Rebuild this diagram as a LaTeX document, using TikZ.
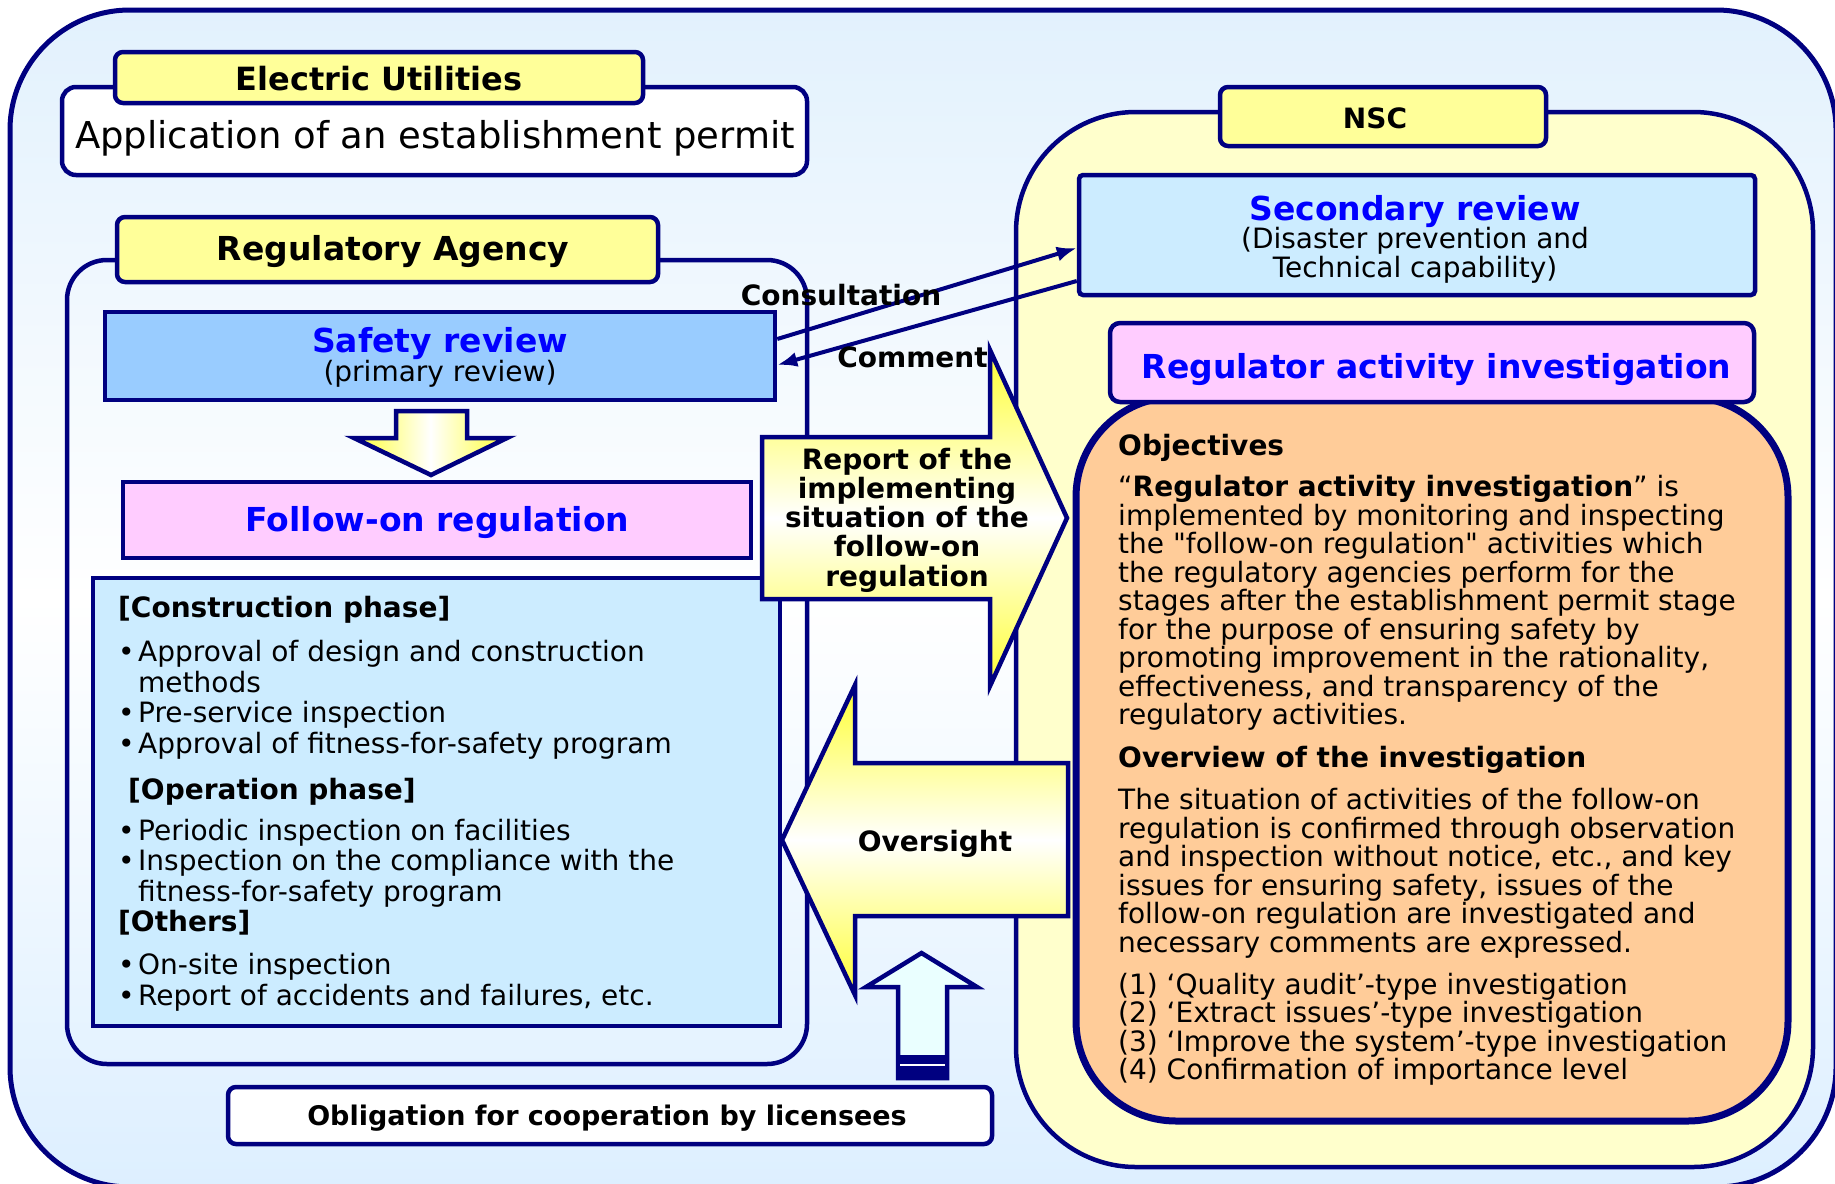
\documentclass[tikz,border=0pt]{standalone}
\usepackage{fontspec}
\setmainfont{DejaVu Sans}
\newfontfamily\plainfont{DejaVu Sans}
\usetikzlibrary{arrows.meta,positioning}

\definecolor{navy}{HTML}{000080}
\definecolor{tabyellow}{HTML}{FFFF99}
\definecolor{safeblue}{HTML}{99CCFF}
\definecolor{paleblue}{HTML}{CCECFF}
\definecolor{pinkbox}{HTML}{FFCCFF}
\definecolor{nscyellow}{HTML}{FFFFCC}
\definecolor{orangebox}{HTML}{FFCC99}
\definecolor{titleblue}{HTML}{0000FF}
\definecolor{bgtop}{HTML}{E2F1FD}
\definecolor{bgbottom}{HTML}{DDEFFF}
\definecolor{arrowyellow}{HTML}{FFFF33}
\definecolor{upcyan}{HTML}{EAFFFF}

\newcommand\bul{\makebox[20pt][l]{\textbullet}}
\newcommand\dq{{\plainfont"}}

\begin{document}
\begin{tikzpicture}[x=1pt,y=-1pt,>={Latex[length=20pt,width=15pt]}]
  \tikzset{block/.style={draw=navy,line width=4.5pt,inner sep=0pt},
    tab/.style={block,fill=tabyellow,rounded corners=8pt},
    grp/.style={draw=navy,line width=4.5pt,inner sep=0pt},
    ttl/.style={font=\bfseries\fontsize{33}{36}\selectfont,text=titleblue,anchor=base,inner sep=0pt},
    lbl/.style={font=\bfseries\fontsize{28}{30}\selectfont,anchor=base,inner sep=0pt},
    txt/.style={font=\fontsize{28}{29}\selectfont,anchor=base,inner sep=0pt},
    blockarrow/.style={draw=navy,line width=4.5pt,line join=miter},
  }
  \useasboundingbox (0,0) rectangle (1835,1183);
  \fill[white] (0,0) rectangle (1835,1183);

  % outer frame
  \path[draw=navy,line width=5pt,rounded corners=120pt,top color=bgtop,bottom color=bgbottom,middle color=white]
    (10,10) rectangle (1836,1187);

  % electric utilities
  \node[block,rounded corners=14pt,fill=white,minimum width=745pt,minimum height=88pt] (EU) at (434.5,131) {};
  \node[tab,minimum width=528pt,minimum height=51pt] (EUtab) at (379,77.5) {};
  \node[lbl,font=\bfseries\fontsize{32}{34}\selectfont] (EUname) at (379,90) {Electric Utilities};
  \node[txt,font=\fontsize{37}{40}\selectfont] (EUapp) at (435,148) {Application of an establishment permit};

  % regulatory agency
  \node[grp,rounded corners=40pt,minimum width=740pt,minimum height=804pt] (RA) at (437,662) {};
  \node[tab,minimum width=541pt,minimum height=65pt] (RAtab) at (387.5,249.5) {};
  \node[lbl,font=\bfseries\fontsize{33}{36}\selectfont] (RAname) at (393,260) {Regulatory Agency};

  \node[block,fill=safeblue,minimum width=670pt,minimum height=88pt] (SR) at (440,356) {};
  \node[ttl] (SRname) at (440,352) {Safety review};
  \node[txt] (SRsub) at (440,381) {(primary review)};

  \path[blockarrow,left color=arrowyellow,right color=arrowyellow,middle color=white]
    (396,411) -- (467,411) -- (467,438) -- (507,438) -- (431,475) -- (354,438) -- (396,438) -- cycle;

  \node[block,fill=pinkbox,minimum width=628pt,minimum height=76pt] (FR) at (437,520) {};
  \node[ttl] (FRname) at (437.5,531) {Follow-on regulation};

  % list of follow-on activities (base = last line)
  \node[block,fill=paleblue,minimum width=687pt,minimum height=448pt] (List) at (436.5,802) {};
  \node[txt,anchor=base west,align=left,font=\fontsize{28}{30.5}\selectfont] (Items) at (118,1005) {%
    \textbf{[Construction phase]}\\[13.5pt]
    \bul Approval of design and construction\\
    \hspace*{20pt}methods\\
    \bul Pre-service inspection\\
    \bul Approval of fitness-for-safety program\\[15.5pt]
    \hspace*{10pt}\textbf{[Operation phase]}\\[10.5pt]
    \bul Periodic inspection on facilities\\
    \bul Inspection on the compliance with the\\
    \hspace*{20pt}fitness-for-safety program\\
    \textbf{[Others]}\\[12.5pt]
    \bul On-site inspection\\
    \bul Report of accidents and failures, etc.};

  % NSC
  \node[grp,fill=nscyellow,rounded corners=120pt,minimum width=797pt,minimum height=1055pt] (NSC) at (1414.5,639.5) {};
  \node[tab,minimum width=326pt,minimum height=59pt] (NSCtab) at (1383,116.5) {};
  \node[lbl] (NSCname) at (1375,128) {NSC};

  \node[block,fill=paleblue,rounded corners=4pt,minimum width=676pt,minimum height=120pt] (SecR) at (1417,235) {};
  \node[ttl] (SecRname) at (1415,220) {Secondary review};
  \node[txt,align=center] (SecRsub) at (1415,277) {(Disaster prevention and\\Technical capability)};

  \node[block,line width=7pt,fill=orangebox,rounded corners=100pt,minimum width=712pt,minimum height=724pt] (Inv) at (1432,759) {};
  \node[tab,fill=pinkbox,rounded corners=10pt,minimum width=644pt,minimum height=79pt] (RAI) at (1432,362.5) {};
  \node[ttl] (RAIname) at (1436.5,378) {Regulator activity investigation};

  \node[txt,anchor=base west,align=left,font=\fontsize{28}{28.5}\selectfont] (InvText) at (1118,1079.5) {%
    \textbf{Objectives}\\[12.5pt]
    “\textbf{Regulator activity investigation}” is\\
    implemented by monitoring and inspecting\\
    the \dq follow-on regulation\dq{} activities which\\
    the regulatory agencies perform for the\\
    stages after the establishment permit stage\\
    for the purpose of ensuring safety by\\
    promoting improvement in the rationality,\\
    effectiveness, and transparency of the\\
    regulatory activities.\\[14.5pt]
    \textbf{Overview of the investigation}\\[13.5pt]
    The situation of activities of the follow-on\\
    regulation is confirmed through observation\\
    and inspection without notice, etc., and key\\
    issues for ensuring safety, issues of the\\
    follow-on regulation are investigated and\\
    necessary comments are expressed.\\[13.5pt]
    (1) ‘Quality audit’-type investigation\\
    (2) ‘Extract issues’-type investigation\\
    (3) ‘Improve the system’-type investigation\\
    (4) Confirmation of importance level};

  % report and oversight
  \path[blockarrow,top color=arrowyellow,bottom color=arrowyellow,middle color=white]
    (762,437) -- (990,437) -- (990,350) -- (1067,518) -- (990,686) -- (990,599) -- (762,599) -- cycle;
  \node[lbl,anchor=center,align=center,font=\bfseries\fontsize{28}{29.3}\selectfont] (Report) at (907,520)
    {Report of the\\implementing\\situation of the\\follow-on\\regulation};

  \path[blockarrow,top color=arrowyellow,bottom color=arrowyellow,middle color=white]
    (1068,763) -- (855,763) -- (855,685) -- (782,840) -- (855,995) -- (855,916) -- (1068,916) -- cycle;
  \node[lbl] (Over) at (935,851.5) {Oversight};

  % cooperation
  \path[blockarrow,fill=upcyan]
    (898,1078) -- (898,987) -- (866,987) -- (921.5,953) -- (977,987) -- (947,987) -- (947,1078) -- cycle;
  \fill[navy] (898,1055) rectangle (947,1078);
  \draw[white,line width=2pt] (900,1065) -- (945,1065);

  \node[block,fill=white,rounded corners=8pt,minimum width=764pt,minimum height=57pt] (Obl) at (610,1115.5) {};
  \node[lbl,font=\bfseries\fontsize{27}{29}\selectfont] (Oblname) at (607,1125) {Obligation for cooperation by licensees};

  % consultation and comment
  \draw[->,navy,line width=4pt] ([yshift=17pt]SR.east) -- ([yshift=-13pt]SecR.west);
  \draw[->,navy,line width=4pt] ([yshift=-46pt]SecR.west) -- ([yshift=-9pt]SR.east);
  \node[lbl] (Cons) at (841,305) {Consultation};
  \node[lbl] (Comm) at (912.5,367) {Comment};
\end{tikzpicture}
\end{document}
